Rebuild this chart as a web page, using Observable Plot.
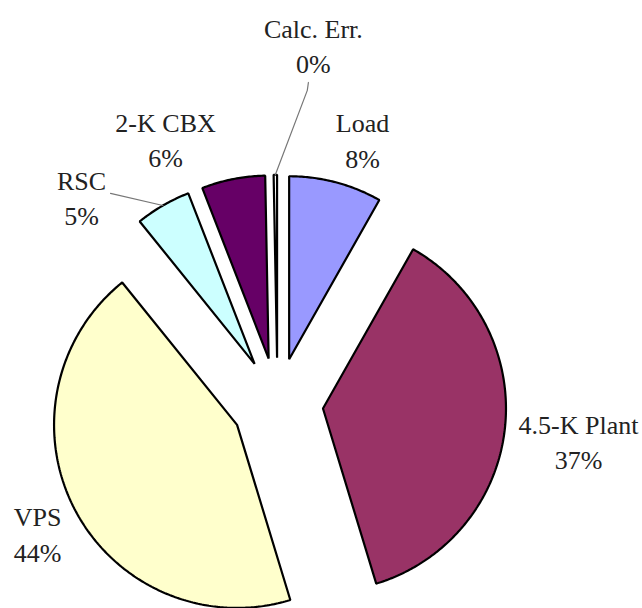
<!DOCTYPE html>
<html>
<head>
<meta charset="utf-8">
<script src="https://cdn.jsdelivr.net/npm/d3@7"></script>
<script src="https://cdn.jsdelivr.net/npm/@observablehq/plot@0.6"></script>
<style>
  html, body { margin: 0; padding: 0; background: #fff; }
  svg { display: block; overflow: visible; }
  svg text { font-family: "Liberation Serif", "Times New Roman", Times, "Nimbus Roman", "DejaVu Serif", serif !important; }
</style>
</head>
<body>
<div id="chart"></div>
<script>
// ---- data ----
const names  = ["Load", "4.5-K Plant", "VPS", "RSC", "2-K CBX", "Calc. Err."];
const values = [8.2, 37.1, 43.9, 4.9, 5.6, 0.3];
const pctLabels = ["8%", "37%", "44%", "5%", "6%", "0%"];
const colors = ["#9999FF", "#993366", "#FFFFCC", "#CCFFFF", "#660066", "#FFFFFF"];

// ---- layout (unit radius space) ----
const EXPLODE = 0.25;
const labelAngle  = [17.8, 97.0, 241.7, 316.6, 337.1, 5.7];   // degrees clockwise from top
const labelRadius = [1.52, 1.657, 1.489, 1.558, 1.572, 1.972];
const leaderOffsets = {3: [[0.158, -0.016]], 5: [[-0.027, 0.208], [-0.033, 0.251]]};

const W = 642, H = 608, R = 183, CX = 277, CY = 403;

const arcs = d3.pie().sort(null).startAngle(0).endAngle(2 * Math.PI)(values);

const slices = [];
const labels = [];
const leaders = [];
arcs.forEach((a, i) => {
  const m = (a.startAngle + a.endAngle) / 2;
  const cx = EXPLODE * Math.sin(m), cy = -EXPLODE * Math.cos(m);
  slices.push({name: names[i], x: cx, y: cy});
  const n = Math.max(2, Math.ceil((a.endAngle - a.startAngle) / 0.01));
  for (let k = 0; k <= n; k++) {
    const t = a.startAngle + (a.endAngle - a.startAngle) * k / n;
    slices.push({name: names[i], x: cx + Math.sin(t), y: cy - Math.cos(t)});
  }
  const la = labelAngle[i] * Math.PI / 180;
  const lx = labelRadius[i] * Math.sin(la), ly = -labelRadius[i] * Math.cos(la);
  labels.push({name: names[i], text: names[i] + "\n" + pctLabels[i], x: lx, y: ly});
  if (leaderOffsets[i]) {
    leaderOffsets[i].forEach(([ox, oy]) => leaders.push({name: names[i], x: lx + ox, y: ly + oy}));
    leaders.push({name: names[i], x: cx + Math.sin(m), y: cy - Math.cos(m)});
  }
});

const chart = Plot.plot({
  width: W,
  height: H,
  margin: 0,
  style: {background: "#fff", overflow: "visible"},
  x: {type: "linear", domain: [-CX / R, (W - CX) / R], range: [0, W], axis: null},
  y: {type: "linear", domain: [-CY / R, (H - CY) / R], range: [0, H], axis: null},
  color: {domain: names, range: colors},
  marks: [
    Plot.line(slices, {x: "x", y: "y", z: "name", fill: "name", stroke: "#000",
      strokeWidth: 2.2, curve: "linear-closed", strokeLinejoin: "miter"}),
    Plot.line(leaders, {x: "x", y: "y", z: "name", stroke: "#777", strokeWidth: 1.2}),
    Plot.text(labels, {x: "x", y: "y", text: "text", fontSize: 26, lineHeight: 1.36,
      fill: "#222", textAnchor: "middle", lineAnchor: "middle"})
  ]
});
document.getElementById("chart").appendChild(chart);
</script>
</body>
</html>
